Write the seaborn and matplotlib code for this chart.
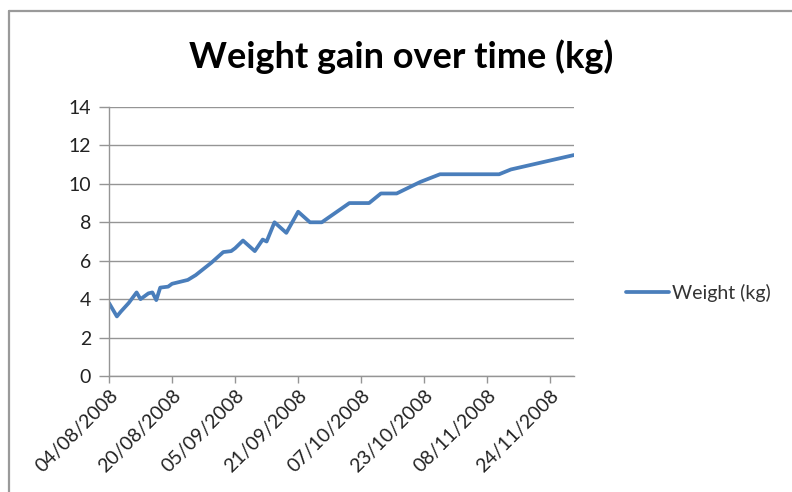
import numpy as np
import pandas as pd
import matplotlib.pyplot as plt
import matplotlib.dates as mdates
from matplotlib.lines import Line2D
import seaborn as sns

sns.set_theme(style='white')
plt.rcParams['font.family'] = ['Lato', 'DejaVu Sans']

# days after 04/08/2008 and weight
days = [0, 2, 3, 5, 7, 8, 10, 11, 12, 13, 15, 16, 18, 20, 22, 26, 29, 31, 32, 34,
        37, 39, 40, 42, 45, 48, 51, 54, 61, 66, 69, 73, 79, 84, 99, 102, 118]
weight = [3.8, 3.1, 3.35, 3.8, 4.35, 4.0, 4.3, 4.35, 3.95, 4.6, 4.65, 4.8, 4.9, 5.0, 5.25,
          5.9, 6.45, 6.5, 6.65, 7.05, 6.5, 7.1, 7.0, 8.0, 7.45, 8.55, 8.0, 8.0, 9.0, 9.0,
          9.5, 9.5, 10.1, 10.5, 10.5, 10.75, 11.5]
start = '2008-08-04'

df = pd.DataFrame({'Date': pd.Timestamp(start) + pd.to_timedelta(days, unit='D'),
                   'Weight (kg)': weight})

fig = plt.figure(figsize=(7.92, 4.92), dpi=100)
ax = fig.add_axes([109/792, 1-376/492, (574-109)/792, (376-107)/492])

sns.lineplot(x='Date', y='Weight (kg)', data=df, color='#4A7EBB', lw=2.7, ax=ax,
             legend=False)

ax.set_ylim(0, 14)
ax.set_yticks(range(0, 15, 2))
ax.set_xlim(df.Date.min(), df.Date.max())
ax.set_xticks(pd.date_range(start, periods=8, freq='16D'))
ax.xaxis.set_major_formatter(mdates.DateFormatter('%d/%m/%Y'))
ax.set_xlabel('')
ax.set_ylabel('')

ax.grid(axis='y', color='#959595', lw=1.0)
ax.set_axisbelow(True)
for s in ['top', 'right']:
    ax.spines[s].set_visible(False)
for s in ['left', 'bottom']:
    ax.spines[s].set_color('#959595')
    ax.spines[s].set_linewidth(1.0)

ax.tick_params(axis='both', which='major', width=1, color='#959595',
               labelsize=14, labelcolor='#222222', direction='out')
ax.tick_params(axis='x', bottom=True, length=5, pad=3)
ax.tick_params(axis='y', left=True, length=7, pad=6)
for lab in ax.get_xticklabels():
    lab.set_rotation(45)
    lab.set_ha('right')
    lab.set_rotation_mode('anchor')

fig.text(401/792, 1-57/492, 'Weight gain over time (kg)', ha='center', va='center',
         fontsize=26, fontweight='bold', color='black')

fig.legend(handles=[Line2D([], [], color='#4A7EBB', lw=2.7)], labels=['Weight (kg)'],
           loc='center left', bbox_to_anchor=(626/792, 1-293/492), frameon=False,
           handlelength=2.2, handletextpad=0.15, borderpad=0, borderaxespad=0,
           fontsize=14, labelcolor='#333333')

# chart area border (top and left only visible)
fig.add_artist(Line2D([8.5/792, 1.0], [1-10.5/492, 1-10.5/492], color='#9a9a9a', lw=1.6,
                      transform=fig.transFigure))
fig.add_artist(Line2D([8.5/792, 8.5/792], [0.0, 1-10.5/492], color='#9a9a9a', lw=1.6,
                      transform=fig.transFigure))

fig.savefig('out.png', dpi=100)
